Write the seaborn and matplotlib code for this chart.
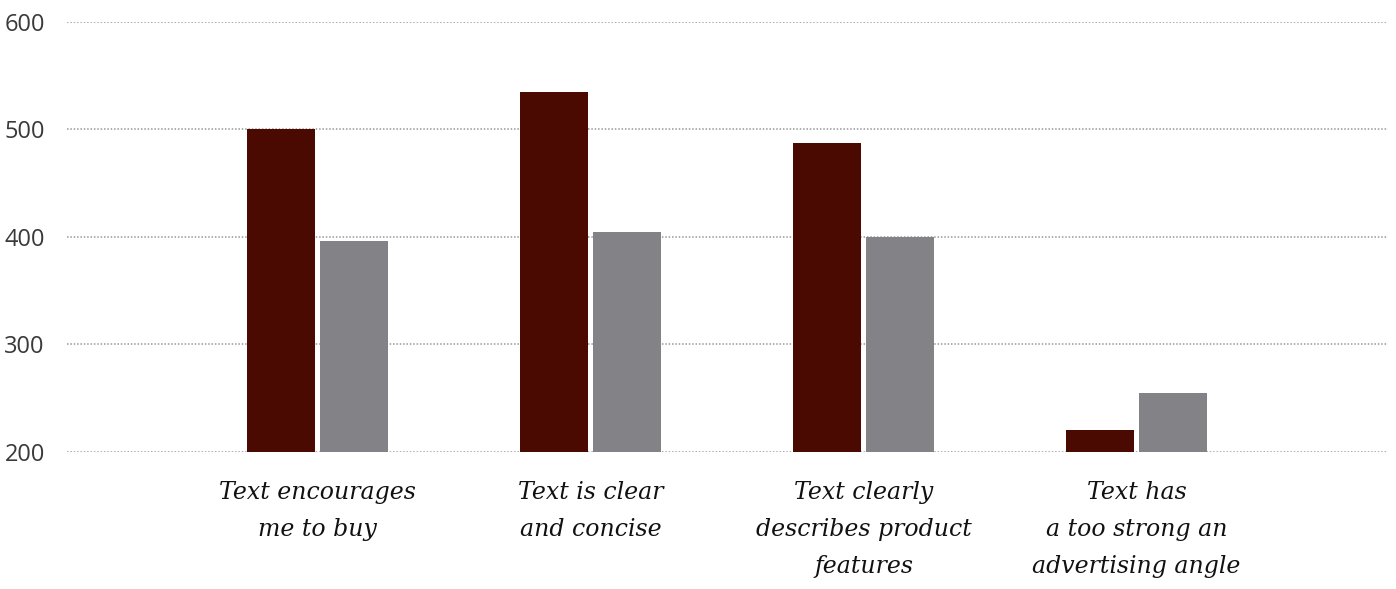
import pandas as pd
import seaborn as sns
import matplotlib.pyplot as plt

# データ
categories = ["Text encourages\nme to buy",
              "Text is clear\nand concise",
              "Text clearly\ndescribes product\nfeatures",
              "Text has\na too strong an\nadvertising angle"]
series_names = ["A", "B"]
values_a = [500, 535, 487, 220]
values_b = [396, 404, 400, 255]
yticks = [200, 300, 400, 500, 600]

df = pd.DataFrame({
    "category": categories * 2,
    "series": [series_names[0]] * 4 + [series_names[1]] * 4,
    "value": values_a + values_b,
})

sns.set_style("white")
plt.rcParams['font.family'] = ['Open Sans', 'DejaVu Sans']

fig = plt.figure(figsize=(13.96, 5.89), dpi=100)
ax = fig.add_axes([67 / 1396, 0.2331, (1388 - 67) / 1396, 0.9632 - 0.2331])

sns.barplot(data=df, x="category", y="value", hue="series",
            palette=["#4a0a02", "#838387"], saturation=1, width=0.535, gap=0.07,
            linewidth=0, legend=False, ax=ax, zorder=3)

# バーは200から描く
for p in ax.patches:
    h = p.get_height()
    p.set_y(200)
    p.set_height(h - 200)

ax.set_ylim(200, 600)
ax.set_xlim(-0.918, 3.921)
ax.set_yticks(yticks)
ax.yaxis.grid(True, color="#999999", linestyle=(0, (1, 1.2)), linewidth=1.1, zorder=0)
ax.set_axisbelow(True)
sns.despine(ax=ax, left=True, bottom=True)
ax.set_xlabel("")
ax.set_ylabel("")

ax.tick_params(axis="y", length=0, pad=16, labelsize=17, labelcolor="#3a3a3a")
ax.tick_params(axis="x", length=0, pad=21)
ax.set_xticks(range(len(categories)))
ax.set_xticklabels(categories, fontdict={"family": "DejaVu Serif", "style": "italic",
                                         "size": 17, "color": "#111111"},
                   linespacing=1.78)

fig.savefig("out.png", dpi=100)
